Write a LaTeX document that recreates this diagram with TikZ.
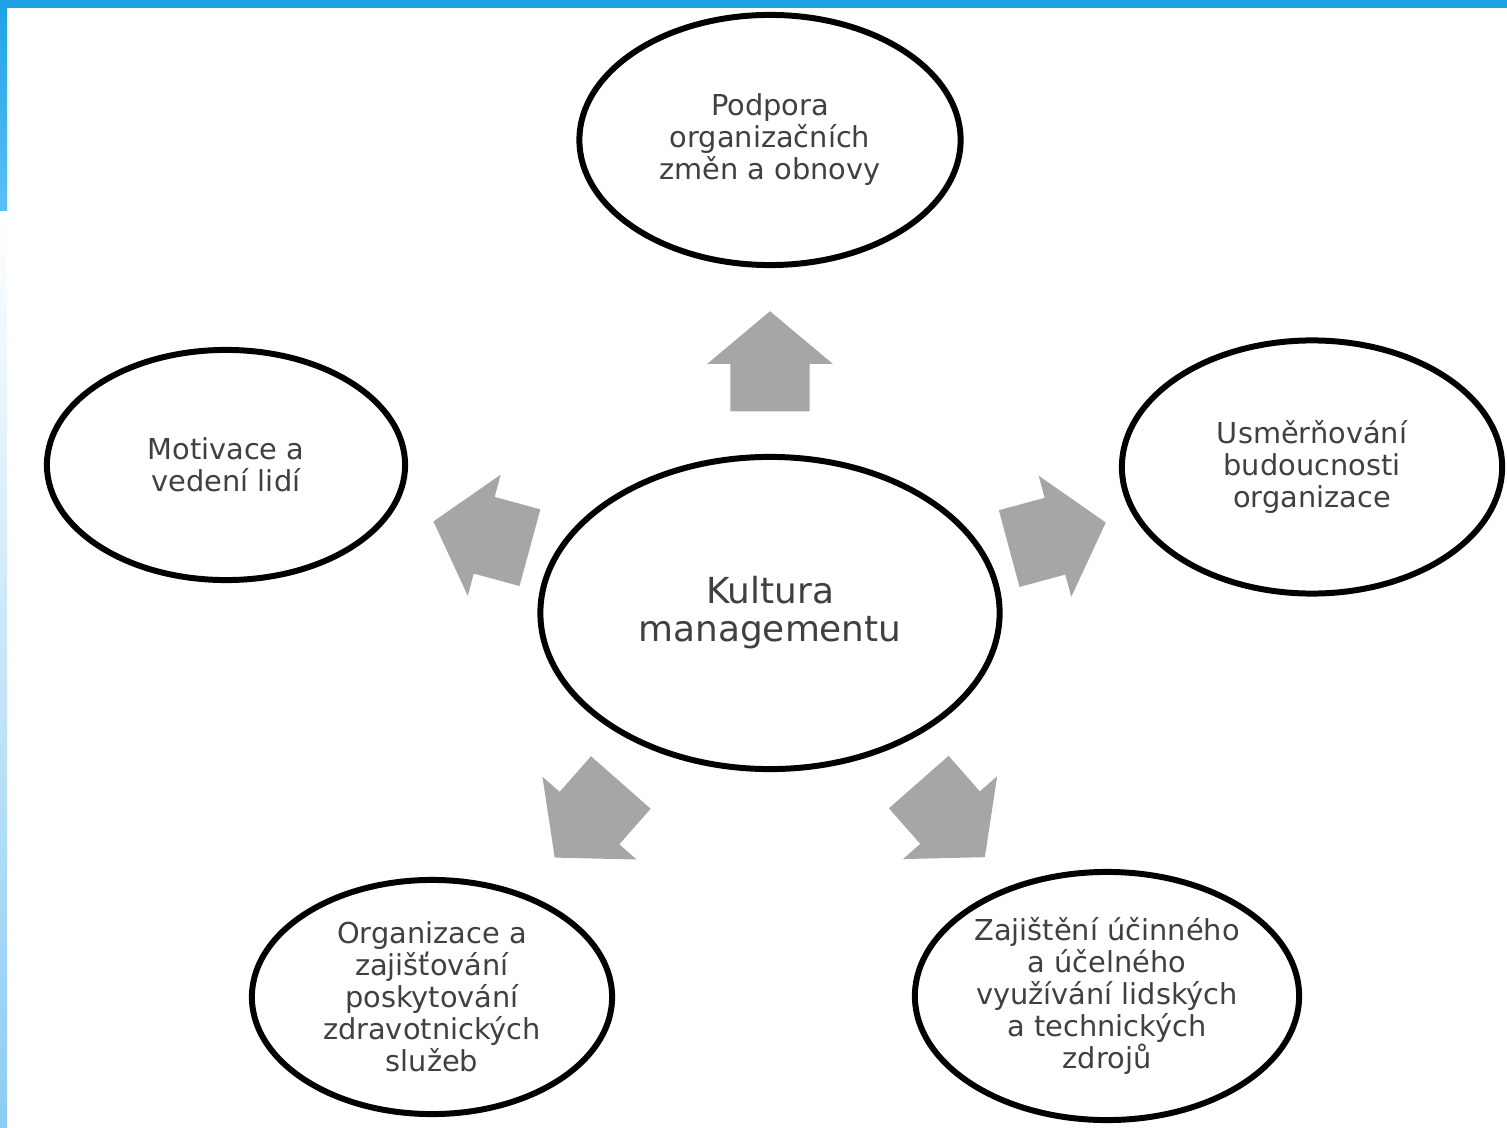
\documentclass[tikz,border=0pt]{standalone}
\usepackage{fontspec}
\setmainfont{DejaVu Sans}
\usetikzlibrary{positioning,shapes.geometric,shapes.arrows}
\definecolor{frameblue}{RGB}{31,163,230}
\definecolor{framelight}{RGB}{92,192,246}
\definecolor{stripblue}{RGB}{140,204,242}
\definecolor{arrowgray}{RGB}{166,166,166}
\definecolor{textgray}{RGB}{64,64,64}

\begin{document}
\begin{tikzpicture}[x=0.01cm,y=-0.01cm,
    bubble/.style={ellipse, draw=black, line width=1.7pt, inner sep=0pt, align=center,
      text=textgray, font=\fontsize{8.2}{9.1}\selectfont},
    blok/.style={single arrow, fill=arrowgray, draw=none, inner xsep=0pt, inner ysep=0.39cm,
      minimum height=1cm, single arrow head extend=0.23cm,
      single arrow tip angle=100, sloped, allow upside down, anchor=tail}]
      \useasboundingbox (0,0) rectangle (1507,1128);

      % Frame of the slide
      \fill[frameblue] (0,0) rectangle (1507,8);
      \shade[top color=frameblue, bottom color=framelight] (0,8) rectangle (7,212);
      \shade[top color=white, bottom color=stripblue] (0,212) rectangle (7,1128);

      % Define the central node
      \node[bubble, minimum width=4.59cm, minimum height=3.12cm,
        font=\fontsize{10.2}{10.8}\selectfont] (kultura) at (770,613) {Kultura\\managementu};

      % Define the nodes around it
      \node[bubble, minimum width=3.81cm, minimum height=2.50cm] (podpora) at (770,140)
        {Podpora\\organizačních\\změn a obnovy};
      \node[bubble, minimum width=3.58cm, minimum height=2.30cm] (motivace) at (226,465)
        {Motivace a\\vedení lidí};
      \node[bubble, minimum width=3.80cm, minimum height=2.53cm] (smer) at (1312,467)
        {Usměrňování\\budoucnosti\\organizace};
      \node[bubble, minimum width=3.60cm, minimum height=2.34cm] (sluzby) at (432,997)
        {Organizace a\\zajišťování\\poskytování\\zdravotnických\\služeb};
      \node[bubble, minimum width=3.84cm, minimum height=2.48cm] (zdroje) at (1107,996)
        {Zajištění účinného\\a účelného\\využívání lidských\\a technických\\zdrojů};

      % Draw the block arrows from the centre outwards
      \path (kultura.center) -- (podpora.center) node[blok, pos=.425] (a1) {};
      \path (kultura.center) -- (motivace.center) node[blok, pos=.44] (a2) {};
      \path (kultura.center) -- (smer.center) node[blok, pos=.44] (a3) {};
      \path (kultura.center) -- (sluzby.center) node[blok, pos=.44] (a4) {};
      \path (kultura.center) -- (zdroje.center) node[blok, pos=.44] (a5) {};
\end{tikzpicture}
\end{document}
